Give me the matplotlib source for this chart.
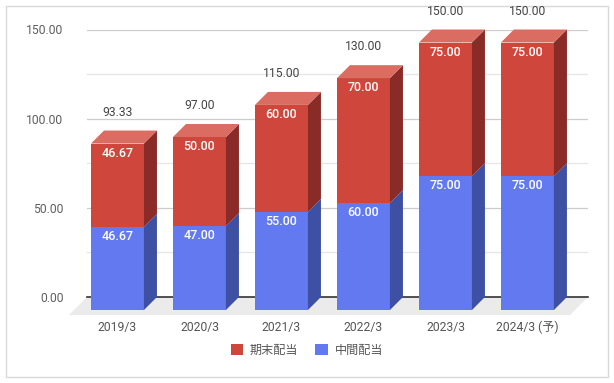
import matplotlib
matplotlib.use("Agg")
import matplotlib.pyplot as plt
from matplotlib.patches import Rectangle, Polygon, Patch

categories = ["2019/3", "2020/3", "2021/3", "2022/3", "2023/3", "2024/3 (予)"]
interim = [46.67, 47.00, 55.00, 60.00, 75.00, 75.00]      # 中間配当
year_end = [46.67, 50.00, 60.00, 70.00, 75.00, 75.00]     # 期末配当
totals = [93.33, 97.00, 115.00, 130.00, 150.00, 150.00]
series_names = ["期末配当", "中間配当"]
yticks = [0, 50, 100, 150]

FONT = ["Roboto", "Noto Sans CJK JP", "DejaVu Sans"]
plt.rcParams["font.family"] = FONT

W, H = 614, 383
fig = plt.figure(figsize=(W / 100, H / 100), dpi=100)
fig.patches.append(Rectangle((6 / W, 6 / H), 602 / W, 371 / H, transform=fig.transFigure,
                             facecolor="none", edgecolor="#d9d9d9", lw=1, zorder=-5))
ax_l, ax_r, ax_b, ax_t = 87, 588, 297, 29.5
ax = fig.add_axes([ax_l / W, (H - ax_b) / H, (ax_r - ax_l) / W, (ax_b - ax_t) / H])
ax.set_zorder(1)
ax.patch.set_alpha(0)
xlim = (-0.53, 5.58)
ylim = (0, 150)
ax.set_xlim(*xlim)
ax.set_ylim(*ylim)
for s in ax.spines.values():
    s.set_visible(False)
ax.set_xticks([])

px_x = (ax_r - ax_l) / (xlim[1] - xlim[0])   # px per x unit
px_y = (ax_b - ax_t) / (ylim[1] - ylim[0])   # px per y unit
depth = 13
dxd = depth / px_x
dyd = depth / px_y
w = 53 / px_x

# gridlines
for v in [25, 75, 125]:
    ax.axhline(v, color="#e6e6e6", lw=0.9, zorder=1)
for v in [50, 100, 150]:
    ax.axhline(v, color="#cccccc", lw=0.9, zorder=1)

# floor
fd = 18
fdx, fdy = fd / px_x, fd / px_y
floor = Polygon([(xlim[0], 0), (xlim[1], 0), (xlim[1] - fdx, -fdy), (xlim[0] - fdx, -fdy)],
                closed=True, facecolor="#ebebeb", edgecolor="none", zorder=0.5, clip_on=False)
ax.add_patch(floor)
ax.plot([xlim[0], xlim[1]], [0, 0], color="#333333", lw=1.2, zorder=2, clip_on=False)

ax.set_yticks(yticks)
ax.set_yticklabels([f"{v:.2f}" for v in yticks])
ax.tick_params(axis="y", length=0, pad=17, labelsize=8.7, labelcolor="#5f5f5f")

red = dict(front="#cf473c", side="#8a2b27", top="#da6c61")
blue = dict(front="#6279f0", side="#3e50a3", top="#8a9af3")

def draw_seg(c, b, t, col, top=False):
    xl = c - dxd - w / 2
    xr = c - dxd + w / 2
    ax.add_patch(Rectangle((xl, b - dyd), w, t - b, facecolor=col["front"],
                           edgecolor="none", zorder=3, clip_on=False))
    ax.add_patch(Polygon([(xr, b - dyd), (xr, t - dyd), (c + w / 2, t), (c + w / 2, b)],
                         closed=True, facecolor=col["side"], edgecolor="none", zorder=3, clip_on=False))
    if top:
        ax.add_patch(Polygon([(xl, t - dyd), (xr, t - dyd), (c + w / 2, t), (c - w / 2, t)],
                             closed=True, facecolor=col["top"], edgecolor="none", zorder=3, clip_on=False))

for i, cat in enumerate(categories):
    a, e = interim[i], year_end[i]
    draw_seg(i, 0, a, blue)
    draw_seg(i, a, a + e, red, top=True)
    fx = i - dxd
    ax.annotate(f"{a:.2f}", (fx, a - dyd), xytext=(0, -7), textcoords="offset points",
                ha="center", va="center", color="white", fontsize=9, fontweight="medium", zorder=5)
    ax.annotate(f"{e:.2f}", (fx, a + e - dyd), xytext=(0, -7), textcoords="offset points",
                ha="center", va="center", color="white", fontsize=9, fontweight="medium", zorder=5)
    ax.annotate(f"{totals[i]:.2f}", (fx, a + e), xytext=(0, 13.2), textcoords="offset points",
                ha="center", va="center", color="#444444", fontsize=8.7, zorder=5, annotation_clip=False)
    ax.annotate(cat, (fx, 0), xytext=(0, -21.6), textcoords="offset points",
                ha="center", va="center", color="#555555", fontsize=8.7, zorder=5,
                annotation_clip=False)

handles = [Patch(facecolor=red["front"], edgecolor="none"), Patch(facecolor=blue["front"], edgecolor="none")]
fig.legend(handles, series_names, loc="center", bbox_to_anchor=(0.5, (H - 350) / H), ncol=2,
           frameon=False, fontsize=8.7, handlelength=1.0, handleheight=1.0, handletextpad=0.6,
           columnspacing=1.4, labelcolor="#555555")

fig.savefig("out.png", dpi=100)
